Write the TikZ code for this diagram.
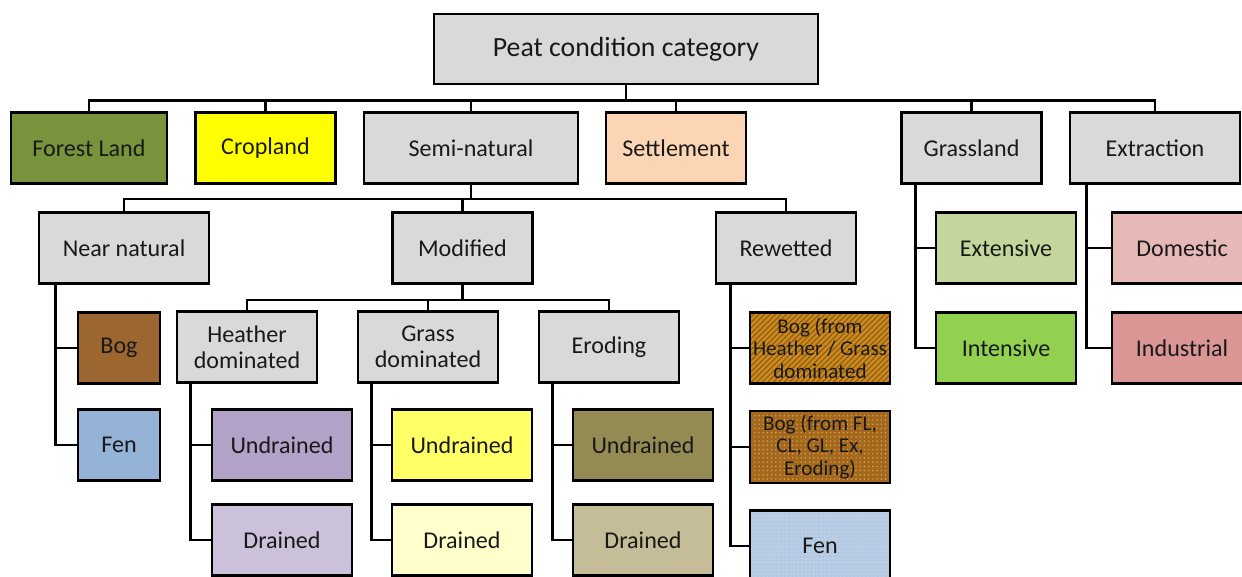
\documentclass[tikz,border=0pt]{standalone}
\usepackage{fontspec}
\setmainfont{Carlito}
\usepackage{tikz}
\usetikzlibrary{patterns.meta}

\definecolor{greyC}{HTML}{D9D9D9}
\definecolor{forestC}{HTML}{77933C}
\definecolor{cropC}{HTML}{FFFF00}
\definecolor{settleC}{HTML}{FCD5B5}
\definecolor{bogC}{HTML}{9C6630}
\definecolor{fenC}{HTML}{95B3D7}
\definecolor{heathU}{HTML}{B3A2C7}
\definecolor{heathD}{HTML}{CCC1DA}
\definecolor{grassU}{HTML}{FFFF66}
\definecolor{grassD}{HTML}{FFFFCC}
\definecolor{erodU}{HTML}{948A54}
\definecolor{erodD}{HTML}{C4BD97}
\definecolor{bogHC}{HTML}{CC8A1E}
\definecolor{bogHL}{HTML}{8A5A12}
\definecolor{bogDC}{HTML}{A2681F}
\definecolor{bogDD}{HTML}{E6A838}
\definecolor{fenRC}{HTML}{B9CDE5}
\definecolor{fenRD}{HTML}{A3BCDA}
\definecolor{extC}{HTML}{C3D69B}
\definecolor{intC}{HTML}{92D050}
\definecolor{domC}{HTML}{E6B9B8}
\definecolor{indC}{HTML}{D99694}

\tikzset{
    cat/.style={draw, line width=1.5pt, fill=greyC, text=black!90, align=center,
        inner sep=0pt, minimum width=2.8cm, minimum height=1.42cm,
        font=\fontsize{13.7}{14.7}\selectfont},
    small/.style={font=\fontsize{12}{12.8}\selectfont},
    hatch/.style={cat, small, preaction={fill=bogHC},
        pattern={Lines[angle=45, distance=2.2pt, line width=0.6pt]}, pattern color=bogHL},
    dotty/.style={cat, small, preaction={fill=bogDC},
        pattern={Dots[distance=2.4pt, radius=0.45pt]}, pattern color=bogDD},
    link/.style={line width=1.5pt},
}

\begin{document}
\begin{tikzpicture}[x=0.02cm, y=-0.02cm]
        \useasboundingbox (0,0) rectangle (1242,576);
        \clip (0,0) rectangle (1242,576);

        % top level
        \node[cat, minimum width=7.68cm, minimum height=1.4cm, font=\fontsize{15.8}{17}\selectfont] at (626,49) (peat) {Peat condition category};
        \node[cat, fill=forestC, minimum width=3.12cm] at (89,148) (forest) {Forest Land};
        \node[cat, fill=cropC] at (265.5,148) (crop) {Cropland};
        \node[cat, minimum width=4.28cm] at (471,148) (semi) {Semi-natural};
        \node[cat, fill=settleC] at (676,148) (settle) {Settlement};
        \node[cat] at (971.5,148) (grass) {Grassland};
        \node[cat, minimum width=3.4cm] at (1155,148) (extract) {Extraction};

        % semi-natural
        \node[cat, minimum width=3.4cm] at (124,248) (near) {Near natural};
        \node[cat] at (462.5,248) (modif) {Modified};
        \node[cat] at (786,248) (rewet) {Rewetted};

        \node[cat, fill=bogC, minimum width=1.64cm] at (119,348) (bogN) {Bog};
        \node[cat, fill=fenC, minimum width=1.64cm] at (119,445) (fenN) {Fen};

        \node[cat] at (247,347) (heath) {Heather\\dominated};
        \node[cat] at (428,347) (grassd) {Grass\\dominated};
        \node[cat] at (609,347) (erod) {Eroding};

        \node[cat, fill=heathU] at (282,445) (heathU) {Undrained};
        \node[cat, fill=heathD] at (282,540) (heathD) {Drained};
        \node[cat, fill=grassU] at (462,445) (grassU) {Undrained};
        \node[cat, fill=grassD] at (462,540) (grassD) {Drained};
        \node[cat, fill=erodU] at (643,445) (erodU) {Undrained};
        \node[cat, fill=erodD] at (643,540) (erodD) {Drained};

        \node[hatch] at (820,348) (bogH) {Bog (from\\Heather / Grass\\dominated};
        \node[dotty, minimum height=1.44cm] at (820,447) (bogD) {Bog (from FL,\\CL, GL, Ex,\\Eroding)};
        \node[cat, preaction={fill=fenRC}, pattern={Dots[distance=2.2pt, radius=0.35pt]}, pattern color=fenRD] at (820,546) (fenR) {Fen};

        % grassland and extraction
        \node[cat, fill=extC] at (1006,248) (ext) {Extensive};
        \node[cat, fill=intC] at (1006,348) (int) {Intensive};
        \node[cat, fill=domC] at (1182,248) (dom) {Domestic};
        \node[cat, fill=indC] at (1182,348) (ind) {Industrial};

        % connectors
        \foreach \c in {forest, crop, semi, settle, grass, extract}
            \draw[link] (peat.south) -- ++(0,15) -| (\c.north);
        \foreach \c in {near, modif, rewet}
            \draw[link] (semi.south) -- ++(0,14) -| (\c.north);
        \foreach \c in {heath, grassd, erod}
            \draw[link] (modif.south) -- ++(0,15) -| (\c.north);

        \draw[link] ([xshift=0.36cm]near.south west) |- (bogN.west);
        \draw[link] ([xshift=0.36cm]near.south west) |- (fenN.west);
        \draw[link] ([xshift=0.3cm]heath.south west) |- (heathU.west);
        \draw[link] ([xshift=0.3cm]heath.south west) |- (heathD.west);
        \draw[link] ([xshift=0.3cm]grassd.south west) |- (grassU.west);
        \draw[link] ([xshift=0.3cm]grassd.south west) |- (grassD.west);
        \draw[link] ([xshift=0.3cm]erod.south west) |- (erodU.west);
        \draw[link] ([xshift=0.3cm]erod.south west) |- (erodD.west);
        \draw[link] ([xshift=0.32cm]rewet.south west) |- (bogH.west);
        \draw[link] ([xshift=0.32cm]rewet.south west) |- (bogD.west);
        \draw[link] ([xshift=0.32cm]rewet.south west) |- (fenR.west);
        \draw[link] ([xshift=0.3cm]grass.south west) |- (ext.west);
        \draw[link] ([xshift=0.3cm]grass.south west) |- (int.west);
        \draw[link] ([xshift=0.36cm]extract.south west) |- (dom.west);
        \draw[link] ([xshift=0.36cm]extract.south west) |- (ind.west);
\end{tikzpicture}
\end{document}
